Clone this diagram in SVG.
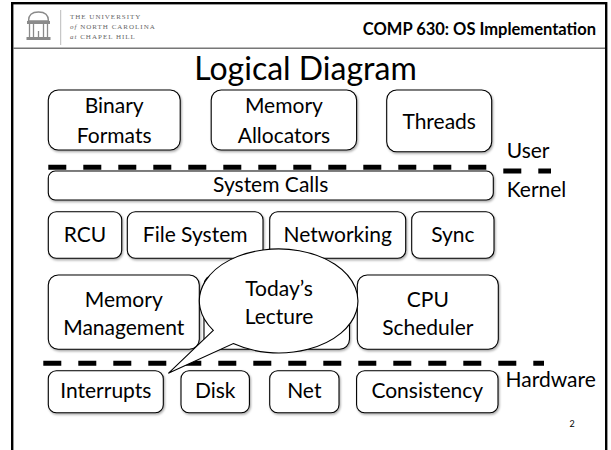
<svg xmlns="http://www.w3.org/2000/svg" width="611" height="450" viewBox="0 0 611 450">
<style>
  .box { fill: #fff; stroke: #000; stroke-width: 1.1; filter: url(#sh); }
  .lbl { font-family: Lato, "Noto Sans", sans-serif; font-size: 21px; fill: #000; text-anchor: middle; }
  .side { font-family: Lato, "Noto Sans", sans-serif; font-size: 21px; fill: #000; }
  .sep { stroke: #000; stroke-width: 5; stroke-dasharray: 18 17; fill: none; }
  .uni { font-family: "Liberation Serif", serif; font-size: 7px; fill: #666; letter-spacing: 1px; }
  .logo { fill: none; stroke: #8a8a8a; stroke-width: 1.3; }
</style>
<defs>
  <filter id="sh" x="-10%" y="-10%" width="120%" height="130%">
    <feDropShadow dx="1" dy="1.5" stdDeviation="0.8" flood-color="#000" flood-opacity="0.35"/>
  </filter>
</defs>
<rect width="611" height="450" fill="#fff"/>
<!-- slide frame -->
<g id="frame">
  <rect x="12.2" y="3.2" width="594" height="470" fill="none" stroke="#000" stroke-width="2.4"/>
  <line x1="13" y1="48.3" x2="605" y2="48.3" stroke="#777" stroke-width="1.4"/>
  <line x1="60.7" y1="10" x2="60.7" y2="45" stroke="#bbb" stroke-width="1"/>
</g>
<!-- header -->
<g id="logo">
  <path class="logo" d="M28.5 21 Q28.5 12 38.5 12 Q48.5 12 48.5 21 Z" fill="#bbb"/>
  <rect x="27" y="21" width="23" height="3" fill="#8a8a8a"/>
  <line class="logo" x1="29.5" y1="24" x2="29.5" y2="37"/>
  <line class="logo" x1="33.5" y1="24" x2="33.5" y2="37"/>
  <line class="logo" x1="43.5" y1="24" x2="43.5" y2="37"/>
  <line class="logo" x1="47.5" y1="24" x2="47.5" y2="37"/>
  <line class="logo" x1="38.5" y1="31" x2="38.5" y2="37"/>
  <rect x="26.5" y="37" width="24" height="3" fill="#8a8a8a"/>
</g>
<g id="university">
  <text class="uni" x="70" y="19">THE UNIVERSITY</text>
  <text class="uni" x="70" y="29.3"><tspan font-style="italic">of</tspan> NORTH CAROLINA</text>
  <text class="uni" x="70" y="39.3"><tspan font-style="italic">at</tspan> CHAPEL HILL</text>
</g>
<text id="course" x="596" y="35" font-family="Lato, 'Noto Sans', sans-serif" font-size="16.5px" font-weight="bold" text-anchor="end">COMP 630: OS Implementation</text>
<text id="title" x="305.5" y="80" font-family="Lato, 'Noto Sans', sans-serif" font-size="32px" text-anchor="middle">Logical Diagram</text>

<!-- separators -->
<g id="connectors">
  <line class="sep" x1="48.3" y1="167.3" x2="495" y2="167.3"/>
  <line class="sep" x1="503.3" y1="171" x2="551" y2="171" stroke-width="6" stroke-dasharray="16 19"/>
  <line class="sep" x1="43.3" y1="363.3" x2="544" y2="363.3" stroke-width="5.3"/>
</g>

<!-- user space -->
<g id="binary-formats">
  <rect class="box" x="48.3" y="90" width="131.9" height="60" rx="10"/>
  <text class="lbl" x="114.2" y="113.3">Binary</text>
  <text class="lbl" x="114.2" y="143.3">Formats</text>
</g>
<g id="memory-allocators">
  <rect class="box" x="211.2" y="90" width="145.4" height="60" rx="10"/>
  <text class="lbl" x="283.9" y="113.3">Memory</text>
  <text class="lbl" x="283.9" y="143.3">Allocators</text>
</g>
<g id="threads">
  <rect class="box" x="386.7" y="90" width="105" height="61.7" rx="10"/>
  <text class="lbl" x="439.2" y="129">Threads</text>
</g>
<text id="user" class="side" x="506.7" y="158.3">User</text>

<g id="system-calls">
  <rect class="box" x="48.3" y="171" width="445" height="29" rx="7"/>
  <text class="lbl" x="270.7" y="192">System Calls</text>
</g>
<text id="kernel" class="side" x="506.7" y="196.7">Kernel</text>

<!-- kernel row 1 -->
<g id="rcu">
  <rect class="box" x="48.3" y="211.7" width="73.4" height="46.6" rx="8"/>
  <text class="lbl" x="85" y="242.3">RCU</text>
</g>
<g id="file-system">
  <rect class="box" x="127.3" y="211.7" width="135.7" height="46.6" rx="8"/>
  <text class="lbl" x="195.2" y="242.3">File System</text>
</g>
<g id="networking">
  <rect class="box" x="269.7" y="211.7" width="136" height="46.6" rx="8"/>
  <text class="lbl" x="337.7" y="242.3">Networking</text>
</g>
<g id="sync">
  <rect class="box" x="411.7" y="211.7" width="82.3" height="46.6" rx="8"/>
  <text class="lbl" x="452.9" y="242.3">Sync</text>
</g>

<!-- kernel row 2 -->
<g id="memory-management">
  <rect class="box" x="48.3" y="275" width="151" height="74.3" rx="10"/>
  <text class="lbl" x="123.8" y="306.7">Memory</text>
  <text class="lbl" x="123.8" y="335">Management</text>
</g>
<g id="hidden-box">
  <rect class="box" x="204" y="275" width="145.5" height="74.3" rx="10"/>
</g>
<g id="cpu-scheduler">
  <rect class="box" x="357.3" y="275" width="141" height="74.3" rx="10"/>
  <text class="lbl" x="427.8" y="306.7">CPU</text>
  <text class="lbl" x="427.8" y="335">Scheduler</text>
</g>

<!-- hardware -->
<g id="interrupts">
  <rect class="box" x="48.3" y="370.7" width="115" height="42" rx="8"/>
  <text class="lbl" x="105.8" y="398.3">Interrupts</text>
</g>
<g id="disk">
  <rect class="box" x="181" y="370.7" width="68.4" height="42" rx="8"/>
  <text class="lbl" x="215.2" y="398.3">Disk</text>
</g>
<g id="net">
  <rect class="box" x="269.7" y="370.7" width="69.3" height="42" rx="8"/>
  <text class="lbl" x="304.3" y="398.3">Net</text>
</g>
<g id="consistency">
  <rect class="box" x="356.6" y="370.7" width="141.4" height="42" rx="8"/>
  <text class="lbl" x="427.3" y="398.3">Consistency</text>
</g>
<text id="hardware" class="side" x="505.5" y="386.7">Hardware</text>

<!-- callout -->
<g id="todays-lecture">
  <path d="M213.3 330.4 L168.3 373.3 L233.3 343.6 A79.3 52 0 1 0 213.3 330.4 Z" fill="#fff" stroke="#000" stroke-width="1.1"/>
  <text class="lbl" x="279" y="296">Today’s</text>
  <text class="lbl" x="279" y="324">Lecture</text>
</g>

<text id="page" x="572" y="427" font-family="Lato, 'Noto Sans', sans-serif" font-size="9px" text-anchor="middle">2</text>
</svg>
